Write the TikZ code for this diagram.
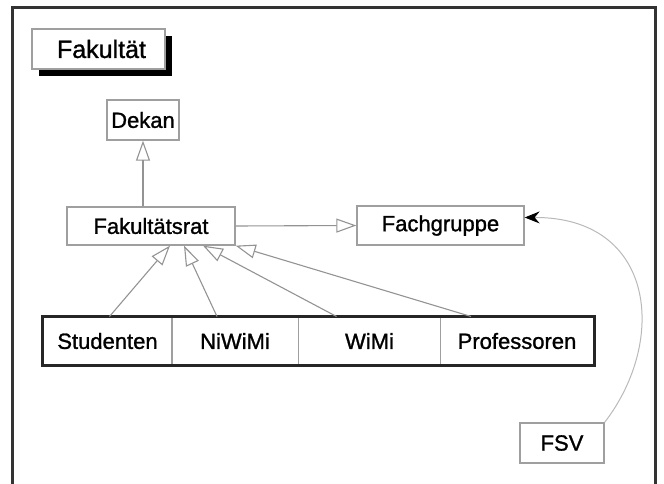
\documentclass[tikz,border=0pt]{standalone}
\usepackage{fontspec}
\setmainfont{Liberation Sans}
\newfontfamily\labfont{Liberation Sans}[BoldFont=Liberation Sans, BoldFeatures={FakeBold=1.2}]
\usetikzlibrary{arrows.meta,shadows}
\begin{document}
\begin{tikzpicture}[x=1pt,y=-1pt,
  lbl/.style={font=\labfont\bfseries\fontsize{22}{26}\selectfont},
  box/.style={lbl, draw=gray!75, line width=1.3pt, fill=white, inner sep=0pt},
  cell/.style={lbl, draw=gray!75, line width=1pt, inner sep=0pt, minimum height=48pt},
  gen/.style={draw=gray!85, line width=1.1pt, -{Triangle[open,length=20pt,width=14pt,line width=1.1pt]}},
  assoc/.style={draw=gray!55, line width=1pt, -{Stealth[black,length=15pt,width=12pt,inset=5pt]}}]
\useasboundingbox (0,0) rectangle (664,484);
% outer frame
\draw[line width=3pt, black!80] (12,495) -- (12,8) -- (655,8) -- (655,495);
% header
\node[box, font=\labfont\bfseries\fontsize{25}{29}\selectfont, minimum width=133pt, minimum height=40pt,
  drop shadow={shadow xshift=7pt, shadow yshift=-7pt, fill=black, opacity=1}] (fak) at (98.5,49) {\hspace*{6pt}Fakultät};
% nodes
\node[box, minimum width=72pt, minimum height=40pt] (dekan) at (143,120) {Dekan};
\node[box, minimum width=168pt, minimum height=38pt] (rat) at (151,226) {Fakultätsrat};
\node[box, minimum width=167pt, minimum height=39pt] (fach) at (440.5,225.5) {Fachgruppe};
\node[box, minimum width=84pt, minimum height=40pt] (fsv) at (562,443) {FSV};
% table
\node[cell, minimum width=129pt] (stud) at (107.5,341) {Studenten};
\node[cell, minimum width=127pt] (niwi) at (235,341) {NiWiMi};
\node[cell, minimum width=142pt] (wimi) at (369.5,341) {WiMi};
\node[cell, minimum width=153pt] (prof) at (517,341) {Professoren};
\draw[line width=3pt, black!85] (stud.north west) rectangle (prof.south east);
% generalisations
\draw[gen] (dekan.south |- rat.north) -- (dekan.south);
\draw[gen] (rat.east) -- (fach.west);
\draw[gen] ([xshift=2pt]stud.north) -- ([xshift=19pt]rat.south);
\draw[gen] ([xshift=-18pt]niwi.north) -- ([xshift=33pt]rat.south);
\draw[gen] ([xshift=-33pt]wimi.north) -- ([xshift=52pt]rat.south);
\draw[gen] ([xshift=-46pt]prof.north) -- (rat.south east);
% association
\draw[assoc] (fsv.north east) .. controls (668,340) and (655,217) .. ([yshift=8pt]fach.east);
\end{tikzpicture}
\end{document}
